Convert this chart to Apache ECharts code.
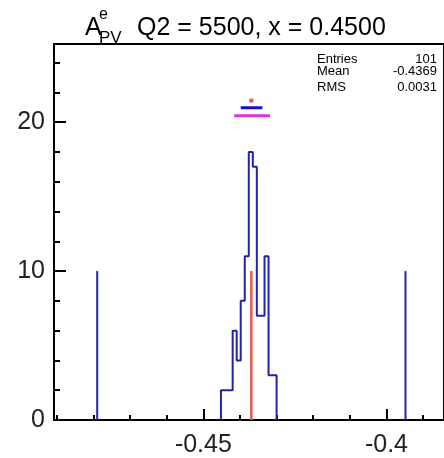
<!DOCTYPE html>
<html>
<head>
<meta charset="utf-8">
<script src="https://cdn.jsdelivr.net/npm/echarts@6/dist/echarts.min.js"></script>
<style>
  html, body { margin: 0; padding: 0; background: #fff; }
  #chart { width: 444px; height: 458px; }
</style>
</head>
<body>
<div id="chart"></div>
<script>
// Histogram of the parity-violating asymmetry A_PV^e (Q2 = 5500, x = 0.45)
const binEdges = [-0.4452, -0.4441, -0.4430, -0.4420, -0.4409, -0.4398, -0.4387,
                  -0.4376, -0.4365, -0.4354, -0.4344, -0.4333, -0.4322, -0.4311, -0.4300];
const binCounts = [2, 2, 2, 6, 4, 8, 11, 18, 17, 7, 7, 11, 3, 3];

// Outer limit lines drawn as single spikes
const limitX = [-0.479, -0.3948];
const limitHeight = 10;

// Mean marker line
const meanX = -0.4369;
const meanLineHeight = 10;

// Summary markers above the peak
const meanPointY = 21.45;
const innerBand = [-0.4398, -0.4339];
const innerBandY = 20.97;
const outerBand = [-0.4416, -0.4318];
const outerBandY = 20.43;

// Axis ticks
const xMajorTicks = [-0.45, -0.4];
const xMinorTicks = [-0.49, -0.48, -0.47, -0.46, -0.45, -0.44, -0.43, -0.42, -0.41, -0.40, -0.39];
const yMajorTicks = [0, 10, 20];
const yMinorTicks = [2, 4, 6, 8, 12, 14, 16, 18, 22, 24];

// Statistics box
const statNames = ['Entries', 'Mean', 'RMS'];
const statValues = ['101', '-0.4369', '0.0031'];

const xMin = -0.4908;
const xMax = -0.38428;
const yMax = 25.25;

// Step outline of the histogram
const stepPoints = [[binEdges[0], 0]];
for (let i = 0; i < binCounts.length; i++) {
  stepPoints.push([binEdges[i], binCounts[i]]);
  stepPoints.push([binEdges[i + 1], binCounts[i]]);
}
stepPoints.push([binEdges[binEdges.length - 1], 0]);

const FONT = '"Liberation Sans", Arial, sans-serif';
const BLUE = '#2222b0';

function segment(name, pts, color, width) {
  return {
    name: name, type: 'line', data: pts, showSymbol: false, silent: true,
    lineStyle: { color: color, width: width }, z: 3
  };
}

const series = [segment('hist', stepPoints, BLUE, 2)];
limitX.forEach((x, i) => series.push(segment('limit' + i, [[x, 0], [x, limitHeight]], BLUE, 2)));
series.push(segment('mean', [[meanX, 0], [meanX, meanLineHeight]], '#e25a50', 2.5));
series.push(segment('outer', [[outerBand[0], outerBandY], [outerBand[1], outerBandY]], '#e030e0', 3));
series.push(segment('inner', [[innerBand[0], innerBandY], [innerBand[1], innerBandY]], '#1010c8', 3));
series.push({
  type: 'scatter', data: [[meanX, meanPointY]], symbol: 'rect', symbolSize: 4,
  itemStyle: { color: '#e03030' }, silent: true, z: 4
});

const statGraphics = [];
const statTops = [53, 65, 81];
statNames.forEach((n, i) => {
  statGraphics.push({
    type: 'text', left: 317, top: statTops[i],
    style: { text: n, font: '13px ' + FONT, fill: '#000' }
  });
  statGraphics.push({
    type: 'text', right: 7, top: statTops[i],
    style: { text: statValues[i], font: '13px ' + FONT, fill: '#000', textAlign: 'right' }
  });
});

const chart = echarts.init(document.getElementById('chart'), null, { renderer: 'canvas' });
chart.setOption({
  animation: false,
  backgroundColor: '#fff',
  grid: {
    left: 54, top: 44, width: 392, height: 388,
    show: true, borderColor: '#000', borderWidth: 2, backgroundColor: 'transparent'
  },
  xAxis: [{
    type: 'value', min: xMin, max: xMax, position: 'bottom',
    axisLine: { show: true, lineStyle: { color: '#000', width: 2 } },
    axisTick: { show: true, inside: true, length: 11, customValues: xMajorTicks,
                lineStyle: { color: '#000', width: 2 } },
    axisLabel: { customValues: xMajorTicks, margin: 13, color: '#222',
                 fontFamily: FONT, fontSize: 25 },
    splitLine: { show: false }
  }, {
    type: 'value', min: xMin, max: xMax, position: 'bottom',
    axisLine: { show: false },
    axisTick: { show: true, inside: true, length: 5, customValues: xMinorTicks,
                lineStyle: { color: '#000', width: 2 } },
    axisLabel: { show: false },
    splitLine: { show: false }
  }],
  yAxis: [{
    type: 'value', min: 0, max: yMax, position: 'left',
    axisLine: { show: true, lineStyle: { color: '#000', width: 2 } },
    axisTick: { show: true, inside: true, length: 12, customValues: yMajorTicks,
                lineStyle: { color: '#000', width: 2 } },
    axisLabel: { customValues: yMajorTicks, margin: 9, color: '#222',
                 fontFamily: FONT, fontSize: 25 },
    splitLine: { show: false }
  }, {
    type: 'value', min: 0, max: yMax, position: 'left',
    axisLine: { show: false },
    axisTick: { show: true, inside: true, length: 6, customValues: yMinorTicks,
                lineStyle: { color: '#000', width: 2 } },
    axisLabel: { show: false },
    splitLine: { show: false }
  }],
  series: series,
  graphic: [
    { type: 'text', left: 85, top: 16, style: { text: 'A', font: '25px ' + FONT, fill: '#000' } },
    { type: 'text', left: 99, top: 7, style: { text: 'e', font: '16px ' + FONT, fill: '#000' } },
    { type: 'text', left: 99, top: 30, style: { text: 'PV', font: '17px ' + FONT, fill: '#000' } },
    { type: 'text', left: 137, top: 16,
      style: { text: 'Q2 = 5500, x = 0.4500', font: '25px ' + FONT, fill: '#000' } }
  ].concat(statGraphics)
});
</script>
</body>
</html>
